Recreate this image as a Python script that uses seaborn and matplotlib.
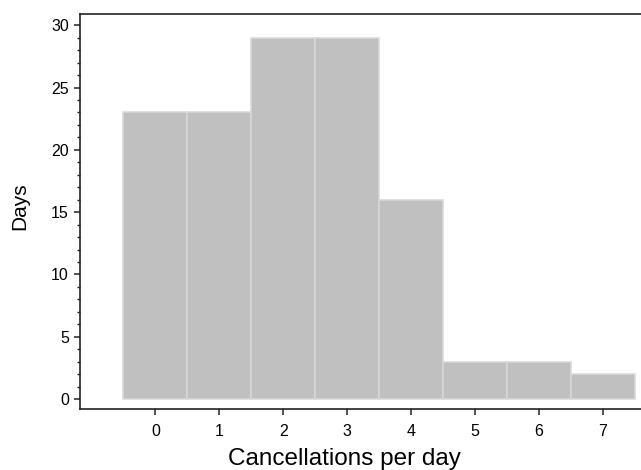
import matplotlib
matplotlib.use("Agg")
import matplotlib.pyplot as plt
from matplotlib.ticker import MultipleLocator
import seaborn as sns
import pandas as pd

# values
cancellations = [0, 1, 2, 3, 4, 5, 6, 7]
days = [23, 23, 29, 29, 16, 3, 3, 2]

df = pd.DataFrame({'Cancellations': cancellations, 'Days': days})

sns.set_style('ticks')
plt.rcParams['font.family'] = ['Liberation Sans', 'DejaVu Sans']

fig = plt.figure(figsize=(6.41, 4.70), dpi=100)
ax = fig.add_axes([0.1248, 0.1298, 0.8752, 0.8404])

sns.barplot(data=df, x='Cancellations', y='Days', width=1, color='#c0c0c0',
            saturation=1, edgecolor='#d8d8d8', linewidth=1.1, ax=ax)

ax.set_xlim(-1.18, 7.6)
ax.set_ylim(-0.8, 30.9)
ax.yaxis.set_major_locator(MultipleLocator(5))
ax.yaxis.set_minor_locator(MultipleLocator(1))

for side in ['left', 'bottom', 'top']:
    ax.spines[side].set_linewidth(1.2)
    ax.spines[side].set_color('#222222')
ax.spines['right'].set_visible(False)

tick_font = ['Liberation Sans Narrow', 'Liberation Sans', 'DejaVu Sans']
ax.tick_params(axis='both', which='major', length=4, width=1.1, color='#222222',
               labelsize=11.5, labelcolor='black')
ax.tick_params(axis='y', which='minor', length=2.5, width=1, color='#222222')
ax.tick_params(axis='x', pad=7)
ax.tick_params(axis='y', pad=4)
for lbl in ax.get_xticklabels() + ax.get_yticklabels():
    lbl.set_family(tick_font)

ax.set_xlabel('Cancellations per day', fontsize=17.5, labelpad=6, color='black', x=0.471)
ax.set_ylabel('Days', fontsize=15, labelpad=16, color='black', y=0.514)

fig.savefig('out.png', dpi=100)
